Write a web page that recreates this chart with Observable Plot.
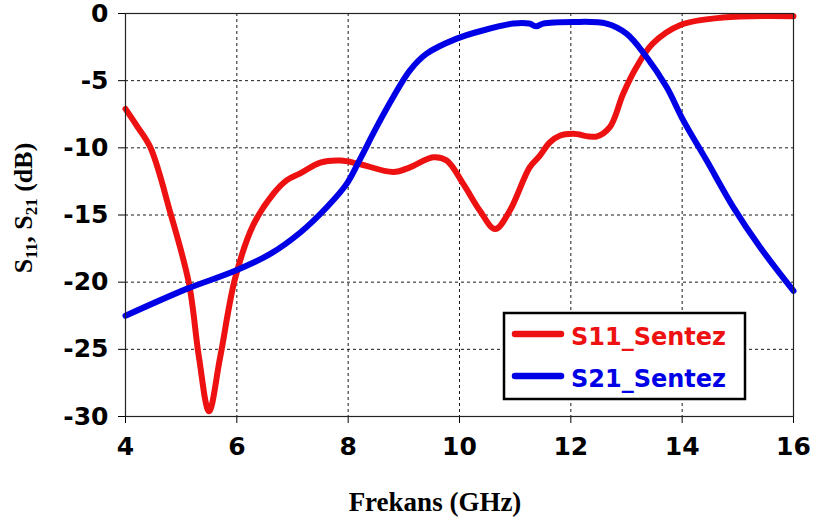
<!DOCTYPE html>
<html>
<head>
<meta charset="utf-8">
<script src="https://cdn.jsdelivr.net/npm/d3@7"></script>
<script src="https://cdn.jsdelivr.net/npm/@observablehq/plot@0.6"></script>
<style>
  html, body { margin: 0; padding: 0; background: #fff; }
  #chart { width: 813px; height: 519px; }
</style>
</head>
<body>
<div id="chart"></div>
<script>
const s11Freq = [4, 4.21, 4.45, 4.81, 5.14, 5.32, 5.5, 5.7, 5.97, 6.3, 6.66, 6.9, 7.14, 7.5, 7.86, 8.2, 8.81, 9.11, 9.53, 9.77, 10.07, 10.37, 10.64, 10.9, 11.26, 11.44, 11.62, 11.8, 12.04, 12.46, 12.7, 12.94, 13.18, 13.47, 13.96, 14.73, 16];
const s11 = [-7.1, -8.4, -10.0, -14.9, -20.1, -25.6, -29.6, -25.6, -19.7, -15.7, -13.4, -12.4, -11.9, -11.1, -10.95, -11.2, -11.8, -11.45, -10.7, -10.95, -12.7, -14.7, -16.05, -14.7, -11.45, -10.6, -9.6, -9.1, -8.96, -9.16, -8.46, -5.97, -3.98, -2.24, -0.87, -0.3, -0.2];

const s21Freq = [4, 5.1, 5.97, 6.6, 7.14, 7.62, 7.97, 8.2, 8.51, 8.81, 9.11, 9.41, 9.95, 10.43, 10.97, 11.25, 11.38, 11.5, 12.04, 12.64, 13, 13.36, 13.72, 14.02, 14.44, 14.92, 15.4, 16];
const s21 = [-22.5, -20.5, -19.15, -17.9, -16.3, -14.4, -12.7, -10.95, -8.46, -6.22, -4.23, -2.99, -1.87, -1.25, -0.75, -0.75, -0.95, -0.75, -0.63, -0.75, -1.5, -3.24, -5.48, -7.96, -10.95, -14.43, -17.4, -20.65];

const xTicks = [4, 6, 8, 10, 12, 14, 16];
const yTicks = [0, -5, -10, -15, -20, -25, -30];
const seriesNames = ["S11_Sentez", "S21_Sentez"];
const seriesColors = ["#ee1111", "#0000e6"];
const xTitle = "Frekans (GHz)";

const d11 = s11Freq.map((f, i) => ({f, v: s11[i]}));
const d21 = s21Freq.map((f, i) => ({f, v: s21[i]}));

const tickFont = {fontSize: 25, fontWeight: "bold", fontFamily: "DejaVu Sans"};

const plot = Plot.plot({
  width: 813,
  height: 519,
  marginLeft: 125,
  marginRight: 20,
  marginTop: 13,
  marginBottom: 103,
  x: {domain: [4, 16]},
  y: {domain: [-30, 0]},
  style: {background: "#fff", color: "#000"},
  marks: [
    Plot.gridX(xTicks.filter(d => d > 4 && d < 16), {stroke: "#000", strokeOpacity: 0.9, strokeDasharray: "3,3"}),
    Plot.gridY(yTicks.filter(d => d > -30 && d < 0), {stroke: "#000", strokeOpacity: 0.9, strokeDasharray: "3,3"}),
    Plot.axisX({ticks: xTicks, tickSize: 7, tickPadding: 14, tickFormat: d => String(d), label: null, ...tickFont}),
    Plot.axisY({ticks: yTicks, tickSize: 7, tickPadding: 10, tickFormat: d => String(d), label: null, ...tickFont}),
    Plot.line(d11, {x: "f", y: "v", stroke: seriesColors[0], strokeWidth: 6, curve: "catmull-rom"}),
    Plot.line(d21, {x: "f", y: "v", stroke: seriesColors[1], strokeWidth: 6, curve: "catmull-rom"}),
    Plot.frame({stroke: "#222", strokeWidth: 1.2})
  ]
});

document.getElementById("chart").appendChild(plot);

const svg = d3.select(plot);

// Y-axis title with subscripts
const yt = svg.append("text")
  .attr("transform", "translate(32,208) rotate(-90)")
  .attr("text-anchor", "middle")
  .attr("font-family", "Liberation Serif")
  .attr("font-weight", "bold")
  .attr("font-size", 26)
  .attr("fill", "#000");
yt.append("tspan").text("S");
yt.append("tspan").attr("font-size", 17).attr("dy", 5).text("11");
yt.append("tspan").attr("dy", -5).text(", S");
yt.append("tspan").attr("font-size", 17).attr("dy", 5).text("21");
yt.append("tspan").attr("dy", -5).text(" (dB)");

// X-axis title
svg.append("text")
  .attr("x", 435).attr("y", 511)
  .attr("text-anchor", "middle")
  .attr("font-family", "Liberation Serif")
  .attr("font-weight", "bold")
  .attr("font-size", 27)
  .attr("fill", "#000")
  .text(xTitle);

// Legend
const lg = svg.append("g");
lg.append("rect")
  .attr("x", 504).attr("y", 313).attr("width", 241).attr("height", 86)
  .attr("fill", "#fff").attr("stroke", "#000").attr("stroke-width", 2.5);
const rows = [{y: 334, ty: 345}, {y: 376, ty: 387}];
seriesNames.forEach((name, i) => {
  lg.append("line")
    .attr("x1", 515).attr("x2", 561)
    .attr("y1", rows[i].y).attr("y2", rows[i].y)
    .attr("stroke", seriesColors[i]).attr("stroke-width", 6.5)
    .attr("stroke-linecap", "round");
  lg.append("text")
    .attr("x", 571).attr("y", rows[i].ty)
    .attr("text-anchor", "start")
    .attr("font-family", "DejaVu Sans")
    .attr("font-weight", "bold")
    .attr("font-size", 24)
    .attr("fill", seriesColors[i])
    .text(name);
});
</script>
</body>
</html>
